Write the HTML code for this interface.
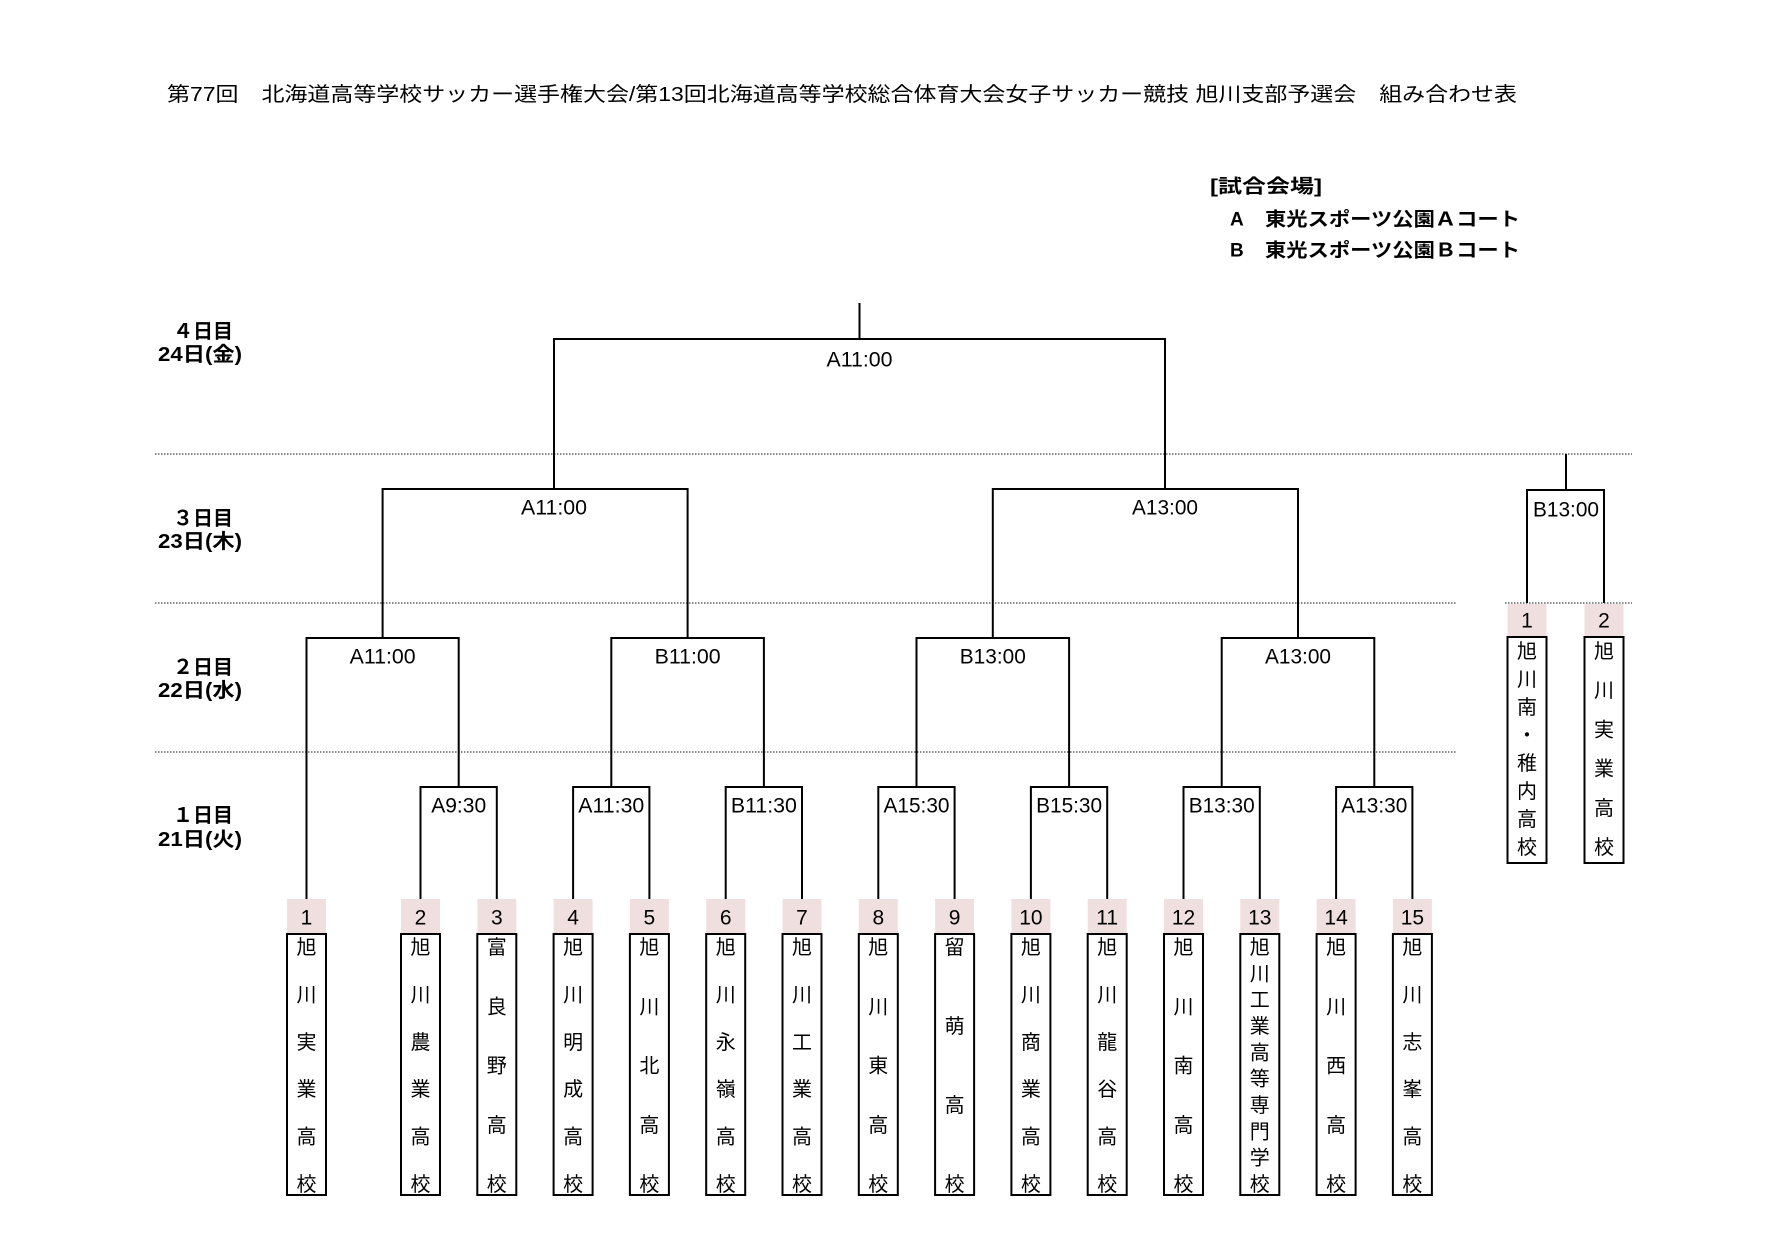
<!DOCTYPE html>
<html><head><meta charset="utf-8"><style>
html,body{margin:0;padding:0;background:#fff;}
svg{display:block;}
.t{font-family:"Liberation Sans","Noto Sans CJK JP",sans-serif;}
.lb{font-family:"Liberation Sans","Noto Sans CJK JP",sans-serif;font-size:21px;text-anchor:middle;dominant-baseline:central;}
.ch{font-family:"Liberation Sans","Noto Sans CJK JP",sans-serif;font-size:20px;text-anchor:middle;dominant-baseline:central;}
.num{font-family:"Liberation Sans","Noto Sans CJK JP",sans-serif;font-size:21px;text-anchor:middle;dominant-baseline:central;}
.day{font-family:"Liberation Sans","Noto Sans CJK JP",sans-serif;font-size:20px;font-weight:bold;text-anchor:middle;dominant-baseline:central;}
.lg{font-family:"Liberation Sans","Noto Sans CJK JP",sans-serif;font-size:19px;font-weight:bold;dominant-baseline:central;}
</style></head><body>
<svg width="1778" height="1256" viewBox="0 0 1778 1256" xmlns="http://www.w3.org/2000/svg">
<rect width="1778" height="1256" fill="#fff"/>
<text class="t" x="167" y="95" font-size="20" dominant-baseline="central" textLength="1350" lengthAdjust="spacingAndGlyphs">第77回　北海道高等学校サッカー選手権大会/第13回北海道高等学校総合体育大会女子サッカー競技 旭川支部予選会　組み合わせ表</text>
<text class="lg" x="1210" y="187" textLength="112" lengthAdjust="spacingAndGlyphs">[試合会場]</text>
<text class="lg" x="1230" y="220">A</text>
<text class="lg" x="1265" y="220" textLength="255" lengthAdjust="spacingAndGlyphs">東光スポーツ公園Ａコート</text>
<text class="lg" x="1230" y="251">B</text>
<text class="lg" x="1265" y="251" textLength="255" lengthAdjust="spacingAndGlyphs">東光スポーツ公園Ｂコート</text>

<text class="day" x="203" y="332" textLength="60" lengthAdjust="spacingAndGlyphs">４日目</text><text class="day" x="200" y="355" textLength="84" lengthAdjust="spacingAndGlyphs">24日(金)</text>
<text class="day" x="203" y="519" textLength="60" lengthAdjust="spacingAndGlyphs">３日目</text><text class="day" x="200" y="542" textLength="84" lengthAdjust="spacingAndGlyphs">23日(木)</text>
<text class="day" x="203" y="668" textLength="60" lengthAdjust="spacingAndGlyphs">２日目</text><text class="day" x="200" y="691" textLength="84" lengthAdjust="spacingAndGlyphs">22日(水)</text>
<text class="day" x="203" y="816" textLength="60" lengthAdjust="spacingAndGlyphs">１日目</text><text class="day" x="200" y="840" textLength="84" lengthAdjust="spacingAndGlyphs">21日(火)</text>

<g stroke="#444" stroke-width="1.2" stroke-dasharray="1.5 1.5">
<line x1="155" y1="454" x2="1632" y2="454"/>
<line x1="155" y1="603" x2="1457" y2="603"/>
<line x1="155" y1="752" x2="1457" y2="752"/>
<line x1="1505" y1="603" x2="1632" y2="603"/>
</g>

<g stroke="#000" stroke-width="2" fill="none">
<path d="M859.5 303V339M554 489V339H1165V489"/>
<path d="M382.6 638V489H687.6V638M992.8 638V489H1298V638"/>
<path d="M306.5 899V638H458.7V787M611.3 787V638H763.9V787M916.5 787V638H1069.1V787M1221.7 787V638H1374.3V787"/>
<path d="M420.5 899V787H496.8V899M573.1 899V787H649.4V899M725.7 899V787H802V899M878.3 899V787H954.6V899M1030.9 899V787H1107.2V899M1183.5 899V787H1259.8V899M1336.1 899V787H1412.4V899"/>
<path d="M1566 454V490M1527 603V490H1604V603"/>
</g>

<g class="lb">
<text x="859.5" y="360" textLength="66" lengthAdjust="spacingAndGlyphs">A11:00</text>
<text x="554" y="508" textLength="66" lengthAdjust="spacingAndGlyphs">A11:00</text>
<text x="1165" y="508" textLength="66" lengthAdjust="spacingAndGlyphs">A13:00</text>
<text x="382.6" y="657" textLength="66" lengthAdjust="spacingAndGlyphs">A11:00</text>
<text x="687.6" y="657" textLength="66" lengthAdjust="spacingAndGlyphs">B11:00</text>
<text x="992.8" y="657" textLength="66" lengthAdjust="spacingAndGlyphs">B13:00</text>
<text x="1298" y="657" textLength="66" lengthAdjust="spacingAndGlyphs">A13:00</text>
<text x="458.7" y="806" textLength="55" lengthAdjust="spacingAndGlyphs">A9:30</text>
<text x="611.3" y="806" textLength="66" lengthAdjust="spacingAndGlyphs">A11:30</text>
<text x="763.9" y="806" textLength="66" lengthAdjust="spacingAndGlyphs">B11:30</text>
<text x="916.5" y="806" textLength="66" lengthAdjust="spacingAndGlyphs">A15:30</text>
<text x="1069.1" y="806" textLength="66" lengthAdjust="spacingAndGlyphs">B15:30</text>
<text x="1221.7" y="806" textLength="66" lengthAdjust="spacingAndGlyphs">B13:30</text>
<text x="1374.3" y="806" textLength="66" lengthAdjust="spacingAndGlyphs">A13:30</text>
<text x="1566" y="510" textLength="66" lengthAdjust="spacingAndGlyphs">B13:00</text>
</g>

<g fill="#f0dfdf">
<rect x="287" y="899" width="39" height="35"/>
<rect x="401" y="899" width="39" height="35"/>
<rect x="477.3" y="899" width="39" height="35"/>
<rect x="553.6" y="899" width="39" height="35"/>
<rect x="629.9" y="899" width="39" height="35"/>
<rect x="706.2" y="899" width="39" height="35"/>
<rect x="782.5" y="899" width="39" height="35"/>
<rect x="858.8" y="899" width="39" height="35"/>
<rect x="935.1" y="899" width="39" height="35"/>
<rect x="1011.4" y="899" width="39" height="35"/>
<rect x="1087.7" y="899" width="39" height="35"/>
<rect x="1164" y="899" width="39" height="35"/>
<rect x="1240.3" y="899" width="39" height="35"/>
<rect x="1316.6" y="899" width="39" height="35"/>
<rect x="1392.9" y="899" width="39" height="35"/>
<rect x="1507.5" y="604" width="39" height="33"/>
<rect x="1584.5" y="604" width="39" height="33"/>
</g>
<g fill="#fff" stroke="#000" stroke-width="2">
<rect x="287" y="934" width="39" height="261"/>
<rect x="401" y="934" width="39" height="261"/>
<rect x="477.3" y="934" width="39" height="261"/>
<rect x="553.6" y="934" width="39" height="261"/>
<rect x="629.9" y="934" width="39" height="261"/>
<rect x="706.2" y="934" width="39" height="261"/>
<rect x="782.5" y="934" width="39" height="261"/>
<rect x="858.8" y="934" width="39" height="261"/>
<rect x="935.1" y="934" width="39" height="261"/>
<rect x="1011.4" y="934" width="39" height="261"/>
<rect x="1087.7" y="934" width="39" height="261"/>
<rect x="1164" y="934" width="39" height="261"/>
<rect x="1240.3" y="934" width="39" height="261"/>
<rect x="1316.6" y="934" width="39" height="261"/>
<rect x="1392.9" y="934" width="39" height="261"/>
<rect x="1507.5" y="637" width="39" height="226"/>
<rect x="1584.5" y="637" width="39" height="226"/>
</g>

<g class="num">
<text x="306.5" y="918">1</text><text x="420.5" y="918">2</text><text x="496.8" y="918">3</text>
<text x="573.1" y="918">4</text><text x="649.4" y="918">5</text><text x="725.7" y="918">6</text>
<text x="802" y="918">7</text><text x="878.3" y="918">8</text><text x="954.6" y="918">9</text>
<text x="1030.9" y="918">10</text><text x="1107.2" y="918">11</text><text x="1183.5" y="918">12</text>
<text x="1259.8" y="918">13</text><text x="1336.1" y="918">14</text><text x="1412.4" y="918">15</text>
<text x="1527" y="621">1</text><text x="1604" y="621">2</text>
</g>

<g class="ch">
<text x="306.5 306.5 306.5 306.5 306.5 306.5" y="948 995.4 1042.8 1090.2 1137.6 1185">旭川実業高校</text>
<text x="420.5 420.5 420.5 420.5 420.5 420.5" y="948 995.4 1042.8 1090.2 1137.6 1185">旭川農業高校</text>
<text x="496.8 496.8 496.8 496.8 496.8" y="948 1007.3 1066.5 1125.8 1185">富良野高校</text>
<text x="573.1 573.1 573.1 573.1 573.1 573.1" y="948 995.4 1042.8 1090.2 1137.6 1185">旭川明成高校</text>
<text x="649.4 649.4 649.4 649.4 649.4" y="948 1007.3 1066.5 1125.8 1185">旭川北高校</text>
<text x="725.7 725.7 725.7 725.7 725.7 725.7" y="948 995.4 1042.8 1090.2 1137.6 1185">旭川永嶺高校</text>
<text x="802 802 802 802 802 802" y="948 995.4 1042.8 1090.2 1137.6 1185">旭川工業高校</text>
<text x="878.3 878.3 878.3 878.3 878.3" y="948 1007.3 1066.5 1125.8 1185">旭川東高校</text>
<text x="954.6 954.6 954.6 954.6" y="948 1027 1106 1185">留萌高校</text>
<text x="1030.9 1030.9 1030.9 1030.9 1030.9 1030.9" y="948 995.4 1042.8 1090.2 1137.6 1185">旭川商業高校</text>
<text x="1107.2 1107.2 1107.2 1107.2 1107.2 1107.2" y="948 995.4 1042.8 1090.2 1137.6 1185">旭川龍谷高校</text>
<text x="1183.5 1183.5 1183.5 1183.5 1183.5" y="948 1007.3 1066.5 1125.8 1185">旭川南高校</text>
<text x="1259.8 1259.8 1259.8 1259.8 1259.8 1259.8 1259.8 1259.8 1259.8 1259.8" y="948 974.3 1000.7 1027 1053.3 1079.7 1106 1132.3 1158.7 1185">旭川工業高等専門学校</text>
<text x="1336.1 1336.1 1336.1 1336.1 1336.1" y="948 1007.3 1066.5 1125.8 1185">旭川西高校</text>
<text x="1412.4 1412.4 1412.4 1412.4 1412.4 1412.4" y="948 995.4 1042.8 1090.2 1137.6 1185">旭川志峯高校</text>
<text x="1527 1527 1527 1527 1527 1527 1527 1527" y="652 680 708 736 764 792 820 848">旭川南・稚内高校</text>
<text x="1604 1604 1604 1604 1604 1604" y="652 691.2 730.4 769.6 808.8 848">旭川実業高校</text>
</g>
</svg>
</body></html>
